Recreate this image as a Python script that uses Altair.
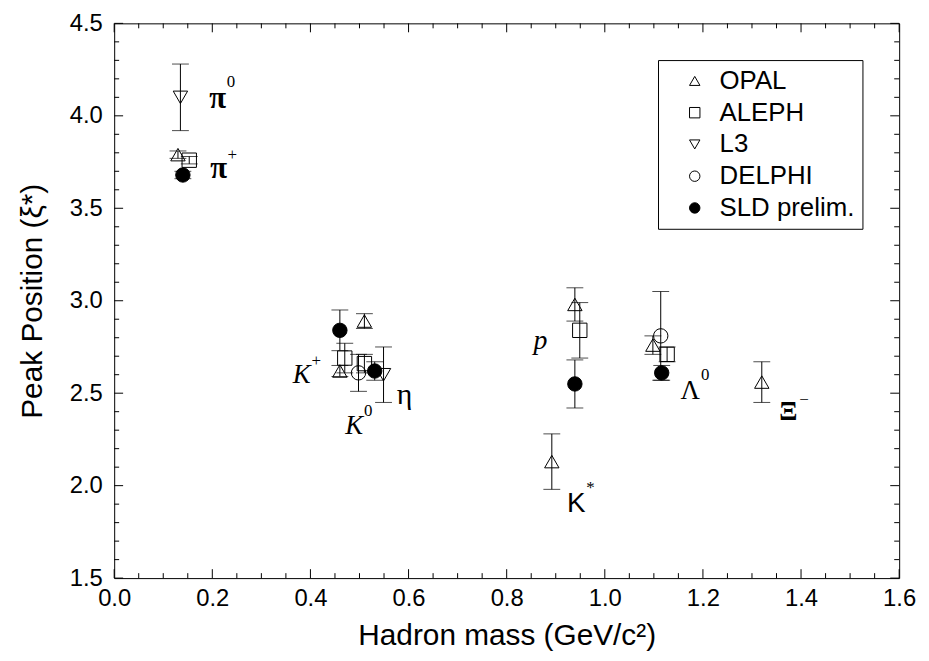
import altair as alt
import pandas as pd

# ---------------- data ----------------
experiments = ["OPAL", "ALEPH", "L3", "DELPHI", "SLD prelim."]
shapes = ["triangle-up", "square", "triangle-down", "circle", "circle"]
fills = ["transparent", "transparent", "transparent", "transparent", "black"]
strokes = ["black", "black", "black", "black", "black"]

opal_mass = [0.130, 0.460, 0.510, 0.892, 0.939, 1.098, 1.320]
opal_peak = [3.79, 2.62, 2.89, 2.13, 2.98, 2.76, 2.56]
opal_err = [0.02, 0.03, 0.04, 0.15, 0.09, 0.05, 0.11]

aleph_mass = [0.153, 0.470, 0.510, 0.949, 1.127]
aleph_peak = [3.76, 2.69, 2.66, 2.84, 2.71]
aleph_err = [0.02, 0.08, 0.05, 0.15, 0.04]

l3_mass = [0.135, 0.549]
l3_peak = [4.10, 2.60]
l3_err = [0.18, 0.15]

delphi_mass = [0.498, 1.114]
delphi_peak = [2.61, 2.81]
delphi_err = [0.10, 0.24]

sld_mass = [0.140, 0.460, 0.531, 0.939, 1.116]
sld_peak = [3.68, 2.84, 2.62, 2.55, 2.61]
sld_err = [0.02, 0.11, 0.05, 0.13, 0.04]

label_text = ["π", "π", "K", "K", "η", "p", "K", "Λ", "Ξ"]
label_sup = ["0", "+", "+", "0", "", "", "*", "0", "−"]
label_x = [0.211, 0.213, 0.382, 0.489, 0.592, 0.869, 0.942, 1.174, 1.374]
label_y = [4.09, 3.71, 2.60, 2.32, 2.49, 2.78, 1.90, 2.51, 2.40]

x_major = [0.0, 0.2, 0.4, 0.6, 0.8, 1.0, 1.2, 1.4, 1.6]
y_major = [1.5, 2.0, 2.5, 3.0, 3.5, 4.0, 4.5]

# ---------------- tables ----------------
rows = []
for name, ms, ps, es in [
    ("OPAL", opal_mass, opal_peak, opal_err),
    ("ALEPH", aleph_mass, aleph_peak, aleph_err),
    ("L3", l3_mass, l3_peak, l3_err),
    ("DELPHI", delphi_mass, delphi_peak, delphi_err),
    ("SLD prelim.", sld_mass, sld_peak, sld_err),
]:
    for m, p, e in zip(ms, ps, es):
        rows.append({"exp": name, "mass": m, "peak": p, "lo": p - e, "hi": p + e})
df = pd.DataFrame(rows)

x_minor = [round(m + k * 0.05, 3) for m in x_major[:-1] for k in (1, 2, 3)]
y_minor = [round(m + k * 0.1, 3) for m in y_major[:-1] for k in (1, 2, 3, 4)]

W, H = 791, 559
xs = alt.Scale(domain=[0.0, 1.6], nice=False, zero=False)
ys = alt.Scale(domain=[1.5, 4.5], nice=False, zero=False)

x_axis = alt.Axis(values=x_major, format=".1f", title="Hadron mass (GeV/c²)",
                  labelPadding=9, titlePadding=10, labelFlush=False, labelOverlap=False)
y_axis = alt.Axis(values=y_major, format=".1f", title="Peak Position (ξ*)",
                  labelPadding=12, titlePadding=22, labelFlush=False, labelOverlap=False)


def X(field):
    return alt.X(field, type="quantitative", scale=xs, axis=x_axis)


def Y(field):
    return alt.Y(field, type="quantitative", scale=ys, axis=y_axis)


base = alt.Chart(df)

err_line = base.mark_rule(color="black", strokeWidth=1).encode(
    x=X("mass"), y=Y("lo"), y2="hi")
cap_hi = base.mark_tick(orient="horizontal", color="black", size=17, thickness=1).encode(
    x=X("mass"), y=Y("hi"))
cap_lo = base.mark_tick(orient="horizontal", color="black", size=17, thickness=1).encode(
    x=X("mass"), y=Y("lo"))

legend = alt.Legend(title=None, orient="none", legendX=548, legendY=37,
                    strokeColor="black", fillColor="white", padding=8,
                    symbolOffset=16, labelOffset=12, rowPadding=6,
                    labelFontSize=26, labelFont="Liberation Sans", labelColor="black",
                    symbolSize=110, symbolStrokeColor="black", symbolStrokeWidth=1)

points = base.mark_point(size=210, strokeWidth=1, opacity=1, fillOpacity=1).encode(
    x=X("mass"), y=Y("peak"),
    shape=alt.Shape("exp:N", scale=alt.Scale(domain=experiments, range=shapes), legend=legend),
    fill=alt.Fill("exp:N", scale=alt.Scale(domain=experiments, range=fills), legend=legend),
    stroke=alt.Stroke("exp:N", scale=alt.Scale(domain=experiments, range=strokes), legend=legend),
)


# inward ticks on all four sides
def tick_layer(values, axis, length):
    d = alt.Chart(pd.DataFrame({"v": values}))
    layers = []
    if axis == "x":
        layers.append(d.mark_rule(color="black", strokeWidth=1).encode(
            x=X("v"), y=alt.value(H), y2=alt.value(H - length)))
        layers.append(d.mark_rule(color="black", strokeWidth=1).encode(
            x=X("v"), y=alt.value(0), y2=alt.value(length)))
    else:
        layers.append(d.mark_rule(color="black", strokeWidth=1).encode(
            y=Y("v"), x=alt.value(0), x2=alt.value(length)))
        layers.append(d.mark_rule(color="black", strokeWidth=1).encode(
            y=Y("v"), x=alt.value(W), x2=alt.value(W - length)))
    return layers


ticks = (tick_layer(x_major, "x", 9) + tick_layer(x_minor, "x", 5)
         + tick_layer(y_major, "y", 9) + tick_layer(y_minor, "y", 5))

# particle labels
styles = {
    0: dict(font="Liberation Serif", fontSize=31, fontWeight="bold", fontStyle="normal", dx=9, dy=-17),
    1: dict(font="Liberation Serif", fontSize=31, fontWeight="bold", fontStyle="normal", dx=9, dy=-15),
    2: dict(font="Liberation Serif", fontSize=27, fontWeight="normal", fontStyle="italic", dx=10, dy=-14),
    3: dict(font="Liberation Serif", fontSize=27, fontWeight="normal", fontStyle="italic", dx=10, dy=-16),
    4: dict(font="Liberation Serif", fontSize=30, fontWeight="normal", fontStyle="normal", dx=0, dy=0),
    5: dict(font="Liberation Serif", fontSize=28, fontWeight="normal", fontStyle="italic", dx=0, dy=0),
    6: dict(font="Liberation Sans", fontSize=28, fontWeight="normal", fontStyle="normal", dx=10, dy=-16),
    7: dict(font="Liberation Serif", fontSize=27, fontWeight="normal", fontStyle="normal", dx=11, dy=-16),
    8: dict(font="Liberation Serif", fontSize=27, fontWeight="bold", fontStyle="normal", dx=11, dy=-12),
}

labels = []
for i, (t, s, lx, ly) in enumerate(zip(label_text, label_sup, label_x, label_y)):
    st = styles[i]
    d = alt.Chart(pd.DataFrame({"t": [t], "s": [s], "x": [lx], "y": [ly]}))
    labels.append(d.mark_text(font=st["font"], fontSize=st["fontSize"], fontWeight=st["fontWeight"],
                              fontStyle=st["fontStyle"], align="center", baseline="middle",
                              color="black").encode(x=X("x"), y=Y("y"), text="t:N"))
    if s:
        labels.append(d.mark_text(font="Liberation Serif", fontSize=17, align="left",
                                  baseline="middle", dx=st["dx"], dy=st["dy"],
                                  color="black").encode(x=X("x"), y=Y("y"), text="s:N"))

chart = alt.layer(*ticks, err_line, cap_hi, cap_lo, points, *labels).properties(
    width=W, height=H,
    autosize=alt.AutoSizeParams(type="none"),
    padding={"left": 107, "top": 13, "right": 22, "bottom": 75},
).configure_view(
    stroke="black", strokeWidth=1
).configure_axis(
    domain=False, ticks=False, grid=False,
    labelFont="Liberation Sans", labelFontSize=24, labelColor="black",
    titleFont="Liberation Sans", titleFontSize=30, titleFontWeight="normal", titleColor="black",
)

chart.save("out.html", embed_options={"renderer": "svg", "actions": False})
